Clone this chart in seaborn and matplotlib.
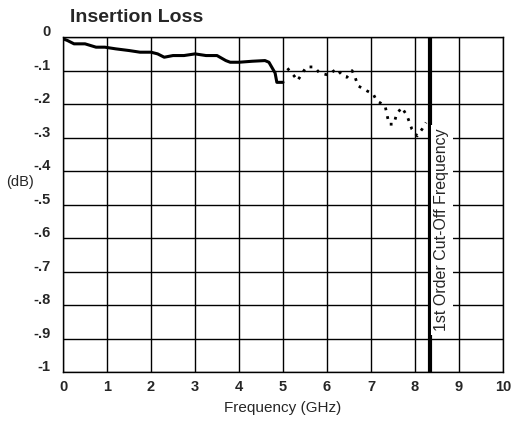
import numpy as np
import pandas as pd
import seaborn as sns
import matplotlib.pyplot as plt
import matplotlib.transforms as mtransforms

# measured insertion loss (solid part, up to 5 GHz)
freq_meas = [0.0, 0.1, 0.25, 0.5, 0.75, 0.95, 1.2, 1.5, 1.75, 2.0, 2.15, 2.3, 2.5,
             2.75, 3.0, 3.25, 3.5, 3.7, 3.8, 4.0, 4.3, 4.59, 4.68, 4.82, 4.86, 5.0]
loss_meas = [-0.005, -0.01, -0.02, -0.02, -0.03, -0.03, -0.035, -0.04, -0.045, -0.045,
             -0.05, -0.06, -0.055, -0.055, -0.05, -0.055, -0.055, -0.07, -0.075,
             -0.075, -0.072, -0.07, -0.075, -0.107, -0.135, -0.135]

# extrapolated part (dotted, 5 GHz to cut-off)
freq_ext = [5.1, 5.26, 5.33, 5.53, 5.71, 5.83, 6.02, 6.22, 6.34, 6.45, 6.57, 6.64,
            6.7, 6.9, 7.05, 7.13, 7.32, 7.41, 7.52, 7.58, 7.7, 7.82, 7.93, 8.05,
            8.16, 8.25]
loss_ext = [-0.093, -0.117, -0.13, -0.089, -0.089, -0.107, -0.113, -0.095, -0.113,
            -0.12, -0.1, -0.12, -0.145, -0.16, -0.17, -0.19, -0.205, -0.26, -0.26,
            -0.23, -0.21, -0.235, -0.275, -0.295, -0.275, -0.255]

cutoff = 8.35
xticks = list(range(0, 11))
yticks = [0, -0.1, -0.2, -0.3, -0.4, -0.5, -0.6, -0.7, -0.8, -0.9, -1.0]
ylabels = ['0', '-.1', '-.2', '-.3', '-.4', '-.5', '-.6', '-.7', '-.8', '-.9', '-1']

sns.set_style("white")
plt.rcParams['font.family'] = ['Liberation Sans', 'DejaVu Sans']

fig = plt.figure(figsize=(5.14, 4.22), dpi=100)
ax = fig.add_axes([0.1226, 0.1185, 0.856, 0.7935])

df_meas = pd.DataFrame({'f': freq_meas, 'loss': loss_meas})
df_ext = pd.DataFrame({'f': freq_ext, 'loss': loss_ext})
sns.lineplot(data=df_meas, x='f', y='loss', ax=ax, color='black', linewidth=2.2)
sns.lineplot(data=df_ext, x='f', y='loss', ax=ax, color='black', linewidth=2.0,
             linestyle=(0, (1, 2.2)))

ax.axvline(cutoff, color='black', linewidth=3, zorder=4)
ax.text(cutoff + 0.26, -0.575, '1st Order Cut-Off Frequency', rotation=90,
        ha='center', va='center', fontsize=11.5, zorder=5,
        bbox=dict(facecolor='white', edgecolor='none', pad=2.5))

ax.set_xlim(0, 10)
ax.set_ylim(-1, 0)
ax.set_xticks(xticks)
ax.set_yticks(yticks)
ax.set_yticklabels(ylabels)
ax.grid(True, color='black', linewidth=1)
for s in ax.spines.values():
    s.set_color('black')
    s.set_linewidth(1)
ax.tick_params(length=0, labelsize=10.5, pad=9)
ax.tick_params(axis='x', pad=6)
for lab in ax.get_xticklabels() + ax.get_yticklabels():
    lab.set_fontweight('bold')
offset = mtransforms.ScaledTranslation(0, 6.5 / 100, fig.dpi_scale_trans)
for lab in ax.get_yticklabels():
    lab.set_transform(lab.get_transform() + offset)

ax.set_xlabel('Frequency (GHz)', fontsize=11, labelpad=5)
ax.set_ylabel('')
fig.text(20 / 514, 1 - 182 / 422, '(dB)', ha='center', va='center', fontsize=10.5)
fig.text(70 / 514, 1 - 18 / 422, 'Insertion Loss', ha='left', va='center',
         fontsize=14, fontweight='bold')

fig.savefig('out.png', dpi=100)
